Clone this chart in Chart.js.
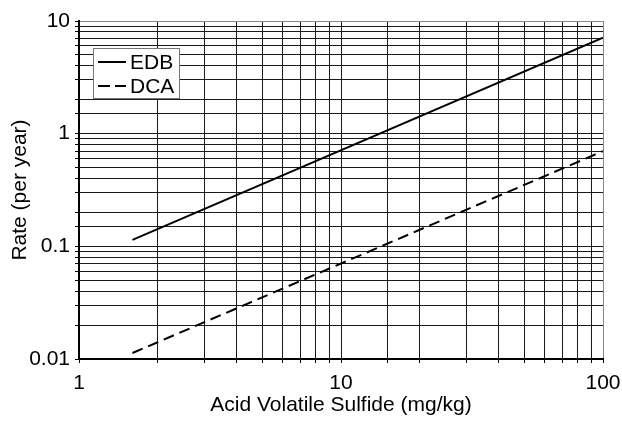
<!DOCTYPE html>
<html>
<head>
<meta charset="utf-8">
<script src="https://cdn.jsdelivr.net/npm/chart.js@4"></script>
<style>
  html, body { margin: 0; padding: 0; background: #fff; }
  #wrap { width: 622px; height: 424px; }
</style>
</head>
<body>
<div id="wrap"><canvas id="c" width="622" height="424"></canvas></div>
<script>
// --- data ---
const avs = [1.6, 100];            // Acid Volatile Sulfide (mg/kg)
const edbRate = [0.114, 7.1];      // per year
const dcaRate = [0.0113, 0.7];     // per year
const xLabels = [1, 10, 100];
const yLabels = [0.01, 0.1, 1, 10];
const seriesNames = ['EDB', 'DCA'];

const font = "Arial, 'Liberation Sans', sans-serif";
const fsize = 21;

function pts(ys) { return avs.map((x, i) => ({ x: x, y: ys[i] })); }

// edge gridlines (top / right) are grey in the original
function gridColor(max) {
  return c => (c.tick && Math.abs(c.tick.value - max) < max * 1e-6) ? '#888' : '#1a1a1a';
}

// legend drawn inside the plot area, like the original
const innerLegend = {
  id: 'innerLegend',
  afterDraw(chart) {
    const ctx = chart.ctx;
    const a = chart.chartArea;
    const x0 = a.left + 14, y0 = a.top + 27, w = 86, h = 50;
    ctx.save();
    ctx.fillStyle = '#fff';
    ctx.fillRect(x0, y0, w, h);
    ctx.strokeStyle = '#777';
    ctx.lineWidth = 1;
    ctx.strokeRect(x0 + 0.5, y0 + 0.5, w, h);
    ctx.font = fsize + 'px ' + font;
    ctx.textBaseline = 'middle';
    chart.data.datasets.forEach((ds, i) => {
      const yy = y0 + 14 + i * 24;
      ctx.strokeStyle = '#000';
      ctx.lineWidth = 2;
      ctx.setLineDash(ds.borderDash ? [12, 5] : []);
      ctx.beginPath();
      ctx.moveTo(x0 + 5, yy);
      ctx.lineTo(x0 + 33, yy);
      ctx.stroke();
      ctx.setLineDash([]);
      ctx.fillStyle = '#000';
      ctx.fillText(ds.label, x0 + 37, yy + 1);
    });
    ctx.restore();
  }
};

new Chart(document.getElementById('c'), {
  type: 'scatter',
  data: {
    datasets: [
      { label: seriesNames[0], data: pts(edbRate), showLine: true, borderColor: '#000', borderWidth: 2, pointRadius: 0 },
      { label: seriesNames[1], data: pts(dcaRate), showLine: true, borderColor: '#000', borderWidth: 2, borderDash: [11, 6], pointRadius: 0 }
    ]
  },
  options: {
    responsive: false,
    animation: false,
    layout: { padding: { top: 21, right: 19, left: 0, bottom: 0 } },
    plugins: { legend: { display: false }, tooltip: { enabled: false } },
    scales: {
      x: {
        type: 'logarithmic', min: 1, max: 100,
        border: { color: '#000', width: 2 },
        grid: { color: gridColor(100), lineWidth: 1, tickLength: 4, tickColor: '#000' },
        ticks: {
          color: '#000', font: { family: font, size: fsize }, maxRotation: 0, autoSkip: false, padding: 8,
          callback: v => xLabels.includes(v) ? String(v) : ''
        },
        title: { display: true, text: 'Acid Volatile Sulfide (mg/kg)', color: '#000', font: { family: font, size: fsize }, padding: { top: 0, bottom: 6 } },
        afterFit: s => { s.height = 65; s.paddingLeft = 0; s.paddingRight = 0; }
      },
      y: {
        type: 'logarithmic', min: 0.01, max: 10,
        border: { color: '#000', width: 2 },
        grid: { color: gridColor(10), lineWidth: 1, tickLength: 4, tickColor: '#000' },
        ticks: {
          color: '#000', font: { family: font, size: fsize }, autoSkip: false, padding: 5,
          callback: v => yLabels.some(t => Math.abs(t - v) < t * 1e-6) ? String(v) : ''
        },
        title: { display: true, text: 'Rate (per year)', color: '#000', font: { family: font, size: fsize }, padding: { top: 8, bottom: 0 } },
        afterFit: s => { s.width = 79; s.paddingTop = 0; s.paddingBottom = 0; }
      }
    }
  },
  plugins: [innerLegend]
});
</script>
</body>
</html>
